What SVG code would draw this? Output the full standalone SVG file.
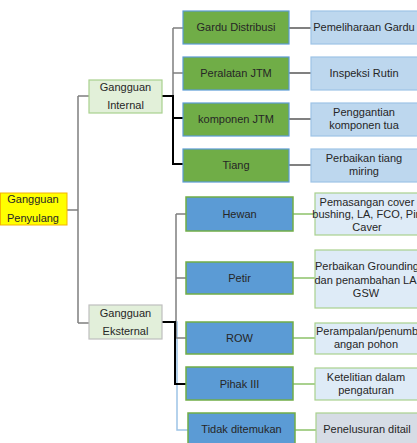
<svg xmlns="http://www.w3.org/2000/svg" width="417" height="443" viewBox="0 0 417 443">
<style>
text{font-family:"Liberation Sans",Arial,sans-serif;font-size:11px;fill:#262626;text-anchor:middle}
.root{fill:#FFFF00;stroke:#F4B400;stroke-width:1}
.cat{fill:#E2F0D9;stroke:#A9D18E;stroke-width:1.2}
.cat2{fill:#E2EFDA;stroke:#BFBFBF;stroke-width:1.2}
.gbox{fill:#70AD47;stroke:#5B9BD5;stroke-width:1.2}
.gsol{fill:#BDD7EE;stroke:#9DC3E6;stroke-width:1.2}
.bbox{fill:#5B9BD5;stroke:#70AD47;stroke-width:1.5}
.bsol{fill:#DEEBF7;stroke:#A9D18E;stroke-width:1.2}
.tsol{fill:#D6DCE5;stroke:#A9D18E;stroke-width:1.2}
.gray{fill:none;stroke:#7F7F7F;stroke-width:1.5}
.blk{fill:none;stroke:#000;stroke-width:2}
.lg{fill:none;stroke:#A9D18E;stroke-width:2}
.lb{fill:none;stroke:#9DC3E6;stroke-width:1.5}
.lgr{fill:none;stroke:#808080;stroke-width:2}
</style>
<g id="connectors">
<path class="gray" d="M67,210H78M78,96V323M78,96H89M78,323H89"/>
<path class="gray" d="M173,28V118M173,28H183M173,73H183"/>
<path class="blk" d="M162,96H173V164H183M173,118H183"/>
<path class="lgr" d="M289,28H311M289,73H311M289,119H311M289,165H311"/>
<path class="lb" d="M162,322H177V430H188"/>
<path class="gray" d="M176,214V338M176,214H186M176,278H186M176,338H186"/>
<path class="blk" d="M162,322H175V384H186"/>
<path class="lg" d="M293,214H315M293,278H315M293,338H315M293,384H315M295,430H316"/>
</g>
<g id="root"><rect class="root" x="0.5" y="193" width="66.5" height="32"/><text x="33" y="203">Gangguan</text><text x="33" y="222">Penyulang</text></g>
<g id="internal"><rect class="cat" x="89" y="80" width="73" height="33"/><text x="125.5" y="91">Gangguan</text><text x="125.5" y="109">Internal</text></g>
<g id="eksternal"><rect class="cat2" x="89" y="305" width="73" height="34"/><text x="125.5" y="317">Gangguan</text><text x="125.5" y="335">Eksternal</text></g>
<g id="gardu"><rect class="gbox" x="183" y="11" width="106" height="33"/><text x="236" y="31">Gardu Distribusi</text></g>
<g id="peralatan"><rect class="gbox" x="183" y="57" width="106" height="33"/><text x="236" y="77">Peralatan JTM</text></g>
<g id="komponen"><rect class="gbox" x="183" y="103" width="106" height="33"/><text x="236" y="123">komponen JTM</text></g>
<g id="tiang"><rect class="gbox" x="183" y="149" width="106" height="33"/><text x="236" y="169">Tiang</text></g>
<g id="s-gardu"><rect class="gsol" x="311" y="11" width="108" height="33"/><text x="364" y="31">Pemeliharaan Gardu</text></g>
<g id="s-peralatan"><rect class="gsol" x="311" y="57" width="108" height="33"/><text x="364" y="77">Inspeksi Rutin</text></g>
<g id="s-komponen"><rect class="gsol" x="311" y="103" width="108" height="33"/><text x="364" y="116">Penggantian</text><text x="364" y="129">komponen tua</text></g>
<g id="s-tiang"><rect class="gsol" x="311" y="149" width="108" height="33"/><text x="364" y="162">Perbaikan tiang</text><text x="364" y="175">miring</text></g>
<g id="hewan"><rect class="bbox" x="186" y="197" width="107" height="34"/><text x="239.5" y="218">Hewan</text></g>
<g id="petir"><rect class="bbox" x="186" y="262" width="107" height="32"/><text x="239.5" y="282">Petir</text></g>
<g id="row"><rect class="bbox" x="186" y="322" width="107" height="32"/><text x="239.5" y="342">ROW</text></g>
<g id="pihak"><rect class="bbox" x="186" y="367" width="107" height="33"/><text x="239.5" y="388">Pihak III</text></g>
<g id="tidak"><rect class="bbox" x="188" y="413" width="107" height="34"/><text x="241.5" y="433">Tidak ditemukan</text></g>
<g id="s-hewan"><rect class="bsol" x="315" y="193" width="106" height="42"/><text x="367" y="206">Pemasangan cover</text><text x="367" y="218">bushing, LA, FCO, Pin</text><text x="367" y="231">Caver</text></g>
<g id="s-petir"><rect class="bsol" x="315" y="250" width="106" height="58"/><text x="367" y="270">Perbaikan Grounding</text><text x="367" y="284">dan penambahan LA,</text><text x="366" y="297">GSW</text></g>
<g id="s-row"><rect class="bsol" x="315" y="323" width="106" height="31"/><text x="367" y="335">Perampalan/penumb</text><text x="366" y="348">angan pohon</text></g>
<g id="s-pihak"><rect class="bsol" x="315" y="368" width="106" height="32"/><text x="366" y="381">Ketelitian dalam</text><text x="366" y="394">pengaturan</text></g>
<g id="s-tidak"><rect class="tsol" x="316" y="413" width="106" height="34"/><text x="367" y="433">Penelusuran ditail</text></g>
</svg>
